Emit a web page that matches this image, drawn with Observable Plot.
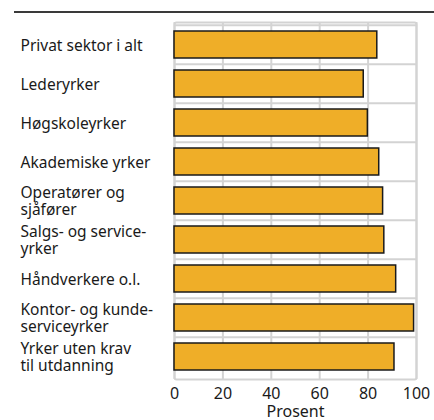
<!DOCTYPE html>
<html>
<head>
<meta charset="utf-8">
<script src="https://cdn.jsdelivr.net/npm/d3@7"></script>
<script src="https://cdn.jsdelivr.net/npm/@observablehq/plot@0.6"></script>
<style>
  html, body { margin: 0; padding: 0; background: #fff; }
  #wrap { position: relative; width: 434px; height: 420px; overflow: hidden; }
  #topline { position: absolute; left: 14px; top: 11px; width: 420px; height: 2px; background: #3a3a3a; }
</style>
</head>
<body>
<div id="wrap"><div id="topline"></div><div id="chart"></div></div>
<script>
const categories = [
  "Privat sektor i alt",
  "Lederyrker",
  "Høgskoleyrker",
  "Akademiske yrker",
  "Operatører og\nsjåfører",
  "Salgs- og service-\nyrker",
  "Håndverkere o.l.",
  "Kontor- og kunde-\nserviceyrker",
  "Yrker uten krav\ntil utdanning"
];
const values = [83.8, 78.2, 79.9, 84.6, 86.2, 86.7, 91.6, 99.0, 90.9];
const xTicks = [0, 20, 40, 60, 80, 100];
const xLabel = "Prosent";

const W = 434, H = 420, mT = 22, mB = 41, mL = 174, mR = 18;
const step = (H - mT - mB) / categories.length;
const gridColor = "#d3d3d3";

const chart = Plot.plot({
  width: W, height: H,
  marginLeft: mL, marginRight: mR, marginTop: mT, marginBottom: mB,
  style: { fontFamily: "Noto Sans", fontSize: "15px", color: "#1a1a1a", background: "white" },
  x: { domain: [0, 100] },
  y: { domain: categories, paddingInner: 0.3, paddingOuter: 0.15, axis: null },
  marks: [
    Plot.gridX(xTicks, { stroke: gridColor, strokeWidth: 2, strokeOpacity: 1 }),
    Plot.tickY(categories, { y: d => d, dy: -step / 2, stroke: gridColor, strokeWidth: 2 }),
    Plot.frame({ stroke: gridColor, strokeWidth: 2, rx: 2 }),
    Plot.barX(categories, {
      x: (d, i) => values[i], y: d => d,
      fill: "#efae28", stroke: "#1a1a1a", strokeWidth: 1.5
    }),
    Plot.text(categories, {
      y: d => d, frameAnchor: "left", dx: -(mL - 20), textAnchor: "start",
      lineHeight: 1.12, fontSize: 15.5, fill: "#1a1a1a"
    }),
    Plot.axisX({
      ticks: xTicks, tickSize: 0, tickPadding: 8, fontSize: 16,
      label: xLabel, labelAnchor: "center", labelArrow: "none", labelOffset: 37
    })
  ]
});
document.getElementById("chart").appendChild(chart);
</script>
</body>
</html>
